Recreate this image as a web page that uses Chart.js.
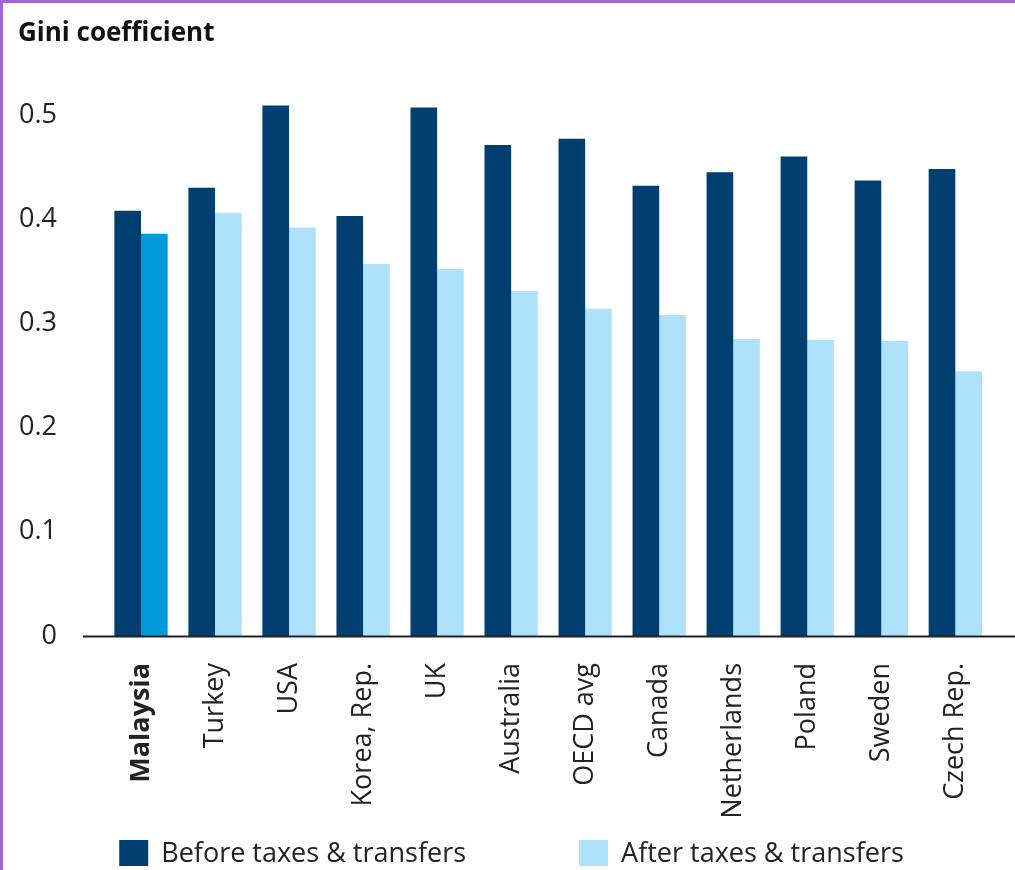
<!DOCTYPE html>
<html>
<head>
<meta charset="utf-8">
<title>Gini coefficient</title>
<script src="https://cdn.jsdelivr.net/npm/chart.js@4/dist/chart.umd.min.js"></script>
<style>
  html, body { margin: 0; padding: 0; background: #fff; }
  #wrap { position: relative; width: 1015px; height: 870px; overflow: hidden; }
  #wrap::after {
    content: ''; position: absolute; left: 0; top: 0; right: 0; bottom: 0;
    border-left: 3px solid #a165d4; border-top: 3px solid #a165d4;
    pointer-events: none;
  }
  canvas { display: block; }
</style>
</head>
<body>
<div id="wrap"><canvas id="gini" width="1015" height="870"></canvas></div>
<script>
// ===== DATA =====
const countries = ['Malaysia', 'Turkey', 'USA', 'Korea, Rep.', 'UK', 'Australia',
  'OECD avg', 'Canada', 'Netherlands', 'Poland', 'Sweden', 'Czech Rep.'];
const beforeTaxes = [0.408, 0.430, 0.509, 0.403, 0.507, 0.471, 0.477, 0.432, 0.445, 0.460, 0.437, 0.448];
const afterTaxes = [0.386, 0.406, 0.392, 0.357, 0.352, 0.331, 0.314, 0.308, 0.285, 0.284, 0.283, 0.254];
const yTicks = [0, 0.1, 0.2, 0.3, 0.4, 0.5];
const highlight = 'Malaysia';

// ===== STYLE =====
const NAVY = '#003f6f';
const LIGHT = '#aee1fa';
const BRIGHT = '#009ad9';
const TEXT = '#222222';
const FONT = "'Open Sans', 'Noto Sans', sans-serif";
const LEGEND_FONT = "27px " + FONT;

// zero line that runs a little past the plot on the left and to the canvas edge on the right
const baseLine = {
  id: 'baseLine',
  afterDatasetsDraw(chart) {
    const { ctx, chartArea, scales } = chart;
    const y = Math.round(scales.y.getPixelForValue(0)) + 0.5;
    ctx.save();
    ctx.strokeStyle = TEXT;
    ctx.lineWidth = 2;
    ctx.beginPath();
    ctx.moveTo(chartArea.left - 21, y);
    ctx.lineTo(chart.width, y);
    ctx.stroke();
    ctx.restore();
  }
};

// one-row legend with a wide gap between the two entries
// (the built-in legend ties the gap to its vertical padding)
const legendRow = {
  id: 'legendRow',
  afterDraw(chart, args, opts) {
    const { ctx } = chart;
    const box = { w: 29, h: 26 };
    const gap = 113;
    const textGap = 13;
    ctx.save();
    ctx.font = LEGEND_FONT;
    const items = chart.data.datasets.map(ds => ({
      label: ds.label,
      color: ds.legendColor,
      width: box.w + textGap + ctx.measureText(ds.label).width
    }));
    const total = items.reduce((s, it) => s + it.width, 0) + gap * (items.length - 1);
    let x = chart.width / 2 + opts.shift - total / 2;
    const yMid = chart.height - opts.fromBottom;
    ctx.textBaseline = 'middle';
    items.forEach(it => {
      ctx.fillStyle = it.color;
      ctx.fillRect(x, yMid - box.h / 2, box.w, box.h);
      ctx.fillStyle = TEXT;
      ctx.fillText(it.label, x + box.w + textGap, yMid + 1);
      x += it.width + gap;
    });
    ctx.restore();
  }
};

new Chart(document.getElementById('gini'), {
  type: 'bar',
  data: {
    labels: countries,
    datasets: [
      {
        label: 'Before taxes & transfers',
        data: beforeTaxes,
        backgroundColor: NAVY,
        legendColor: NAVY,
        borderWidth: 0
      },
      {
        label: 'After taxes & transfers',
        data: afterTaxes,
        backgroundColor: c => (countries[c.dataIndex] === highlight ? BRIGHT : LIGHT),
        legendColor: LIGHT,
        borderWidth: 0
      }
    ]
  },
  options: {
    responsive: false,
    animation: false,
    devicePixelRatio: 1,
    layout: { padding: { left: 18, right: 7, top: 0, bottom: 40 } },
    datasets: { bar: { categoryPercentage: 0.72, barPercentage: 1 } },
    plugins: {
      title: {
        display: true,
        text: 'Gini coefficient',
        align: 'start',
        color: '#111',
        font: { family: FONT, size: 26, weight: 'bold', lineHeight: 1.2 },
        padding: { top: 18, bottom: 44.8 }
      },
      legend: { display: false },
      legendRow: { shift: 4, fromBottom: 17 },
      tooltip: { enabled: false }
    },
    scales: {
      x: {
        grid: { display: false, drawTicks: false },
        border: { display: false },
        afterFit(scale) { scale.height = 194; },
        ticks: {
          autoSkip: false,
          minRotation: 90,
          maxRotation: 90,
          padding: 27,
          color: TEXT,
          font: c => ({
            family: FONT,
            size: 27,
            weight: countries[c.index] === highlight ? 'bold' : 'normal'
          })
        }
      },
      y: {
        min: 0,
        max: 0.52,
        grid: { display: false, drawTicks: false },
        border: { display: false },
        afterFit(scale) { scale.width = 86; },
        afterBuildTicks(scale) { scale.ticks = yTicks.map(v => ({ value: v })); },
        ticks: {
          padding: 47,
          color: TEXT,
          font: { family: FONT, size: 27 },
          callback: v => String(v)
        }
      }
    }
  },
  plugins: [baseLine, legendRow]
});
</script>
</body>
</html>
